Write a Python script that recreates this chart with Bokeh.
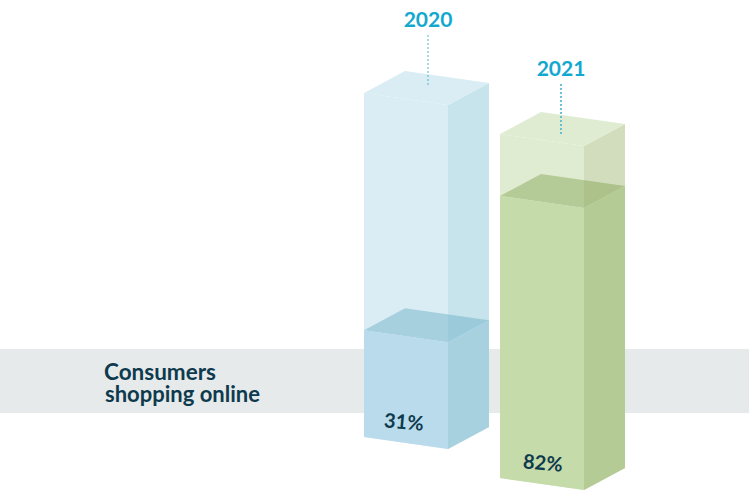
from bokeh.plotting import figure
from bokeh.models import Range1d
from bokeh.core.properties import value
from bokeh.embed import file_html
from bokeh.resources import INLINE

years = ["2020", "2021"]
shares = [31, 82]
share_labels = ["31%", "82%"]
band_label = ["Consumers", "shopping online"]

# layout
W, H = 749, 500
PX_PER_PCT = 3.44
FRONT_W, SLANT = 84, 12
DEPTH_X, DEPTH_Y = 41, 22
left_x = [364, 500]
base_y = [437, 478]
ghost_colors = [("#daedf4", "#c7e4ec", "#daedf4"), ("#e0ecd2", "#d1ddbd", "#e0ecd2")]
fill_colors = [("#b9dbeb", "#a8d1e0", "#51a1bb", 0.37), ("#c5dbaa", "#b5cb96", "#759c3e", 0.40)]
label_y = [19, 68]
label_x = [428, 561]
lead_y = [(35, 86), (84, 135)]
lead_w = [1, 1.6]
pct_pos = [(404, 421), (543, 462)]

p = figure(width=W + 1, height=H + 1, output_backend="svg", toolbar_location=None,
           x_range=Range1d(-0.5, W + 0.5), y_range=Range1d(H + 0.5, -0.5), min_border=0,
           outline_line_color=None, background_fill_color="white",
           border_fill_color="white", margin=(-1, 0, 0, -1))
p.axis.visible = False
p.grid.visible = False

p.quad(left=-1, right=W + 1, top=349, bottom=413, fill_color="#e7eaeb", line_color=None)


def faces(x, base, share):
    top = base - share * PX_PER_PCT
    xr, xb = x + FRONT_W, x + FRONT_W + DEPTH_X
    xbl = x + DEPTH_X
    front = ([x, xr, xr, x], [base, base + SLANT, top + SLANT, top])
    side = ([xr, xb, xb, xr], [base + SLANT, base + SLANT - DEPTH_Y, top + SLANT - DEPTH_Y, top + SLANT])
    lid = ([x, xbl, xb, xr], [top, top - DEPTH_Y, top + SLANT - DEPTH_Y, top + SLANT])
    return front, side, lid


for x, b, s, gc, fc in zip(left_x, base_y, shares, ghost_colors, fill_colors):
    gf, gs, gt = faces(x, b, 100)
    p.patch(*gf, fill_color=gc[0], line_color=None)
    p.patch(*gs, fill_color=gc[1], line_color=None)
    p.patch(*gt, fill_color=gc[2], line_color=None)
    ff, fs, ft = faces(x, b, s)
    p.patch(*ft, fill_color=fc[2], fill_alpha=fc[3], line_color=None)
    p.patch(*ff, fill_color=fc[0], line_color=None)
    p.patch(*fs, fill_color=fc[1], line_color=None)

for yr, lx, ly, ld, lw in zip(years, label_x, label_y, lead_y, lead_w):
    p.text([lx], [ly], text=[yr], text_font=value("Lato"), text_font_style="bold",
           text_font_size="21px", text_color="#12a8cf", text_align="center", text_baseline="middle")
    p.line([lx, lx], list(ld), line_color="#4ab4cf", line_width=lw, line_dash="2 2")

for t, (px, py) in zip(share_labels, pct_pos):
    p.text([px], [py], text=[t], text_font=value("Lato"), text_font_style="bold",
           text_font_size="20px", text_color="#0e3a4e", text_align="center",
           text_baseline="middle", angle=-0.09)

p.text([104], [371], text=[band_label[0]], text_font=value("Lato"), text_font_style="bold",
       text_font_size="22.5px", text_color="#0e3a4e", text_baseline="middle")
p.text([105], [393], text=[band_label[1]], text_font=value("Lato"), text_font_style="bold",
       text_font_size="22px", text_color="#0e3a4e", text_baseline="middle")

open("out.html", "w").write(file_html(p, INLINE))
